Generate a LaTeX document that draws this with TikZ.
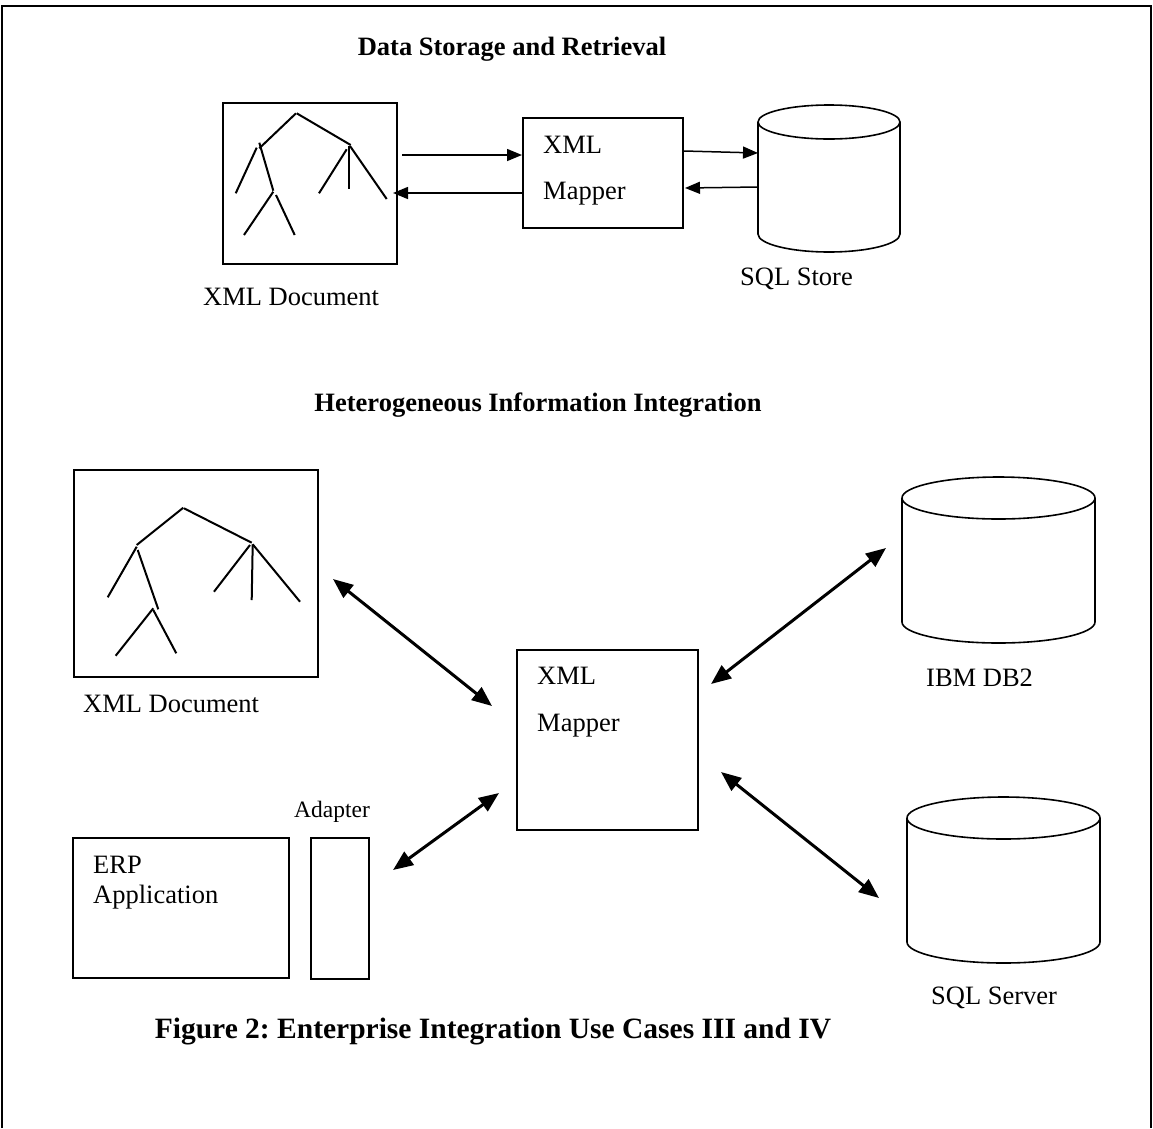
\documentclass[tikz,border=0pt]{standalone}
\usepackage{fontspec}
\setmainfont{Liberation Serif}
\usetikzlibrary{arrows.meta}
\frenchspacing
\begin{document}
\begin{tikzpicture}[x=1pt,y=-1pt,
  box/.style={draw, line width=2pt, inner sep=0pt, anchor=north west},
  lbl/.style={inner sep=0pt, font=\fontsize{26.5}{30}\selectfont},
  small/.style={inner sep=0pt, font=\fontsize{23.5}{28}\selectfont},
  ttl/.style={inner sep=0pt, font=\fontsize{26.5}{30}\selectfont\bfseries},
  captxt/.style={inner sep=0pt, font=\fontsize{29.5}{33}\selectfont\bfseries},
  tarr/.style={line width=1.5pt, -{Triangle[length=15pt,width=12pt]}},
  darr/.style={line width=3pt, {Triangle[length=20pt,width=16pt]}-{Triangle[length=20pt,width=16pt]}},
  tree/.style={line width=2pt},
  cyl/.style={line width=1.6pt}]
\useasboundingbox (0,0) rectangle (1153,1128);
% frame
\draw[line width=1.5pt] (2,1128) -- (2,6) -- (1151,6) -- (1151,1128);

% ---------- Data Storage and Retrieval ----------
\node[ttl, anchor=base] (t1) at (512,55) {Data Storage and Retrieval};

\node[box, minimum width=174pt, minimum height=161pt] (docA) at (222,102) {};
\draw[tree] (296,113.3) -- (259.3,148.3);
\draw[tree] (296.7,113.3) -- (350.7,145);
\draw[tree] (256.7,147.7) -- (235.7,193.3);
\draw[tree] (259.3,142.7) -- (273.3,190.7);
\draw[tree] (273.3,191.7) -- (244,235);
\draw[tree] (276,195) -- (294.7,235);
\draw[tree] (346.7,149.3) -- (319,193.3);
\draw[tree] (349,146) -- (349,189.3);
\draw[tree] (350,146) -- (386.7,199);
\node[lbl, anchor=base west] (docAl) at (203,305) {XML Document};

\node[box, minimum width=160pt, minimum height=110pt] (mapA) at (522,117) {};
\node[lbl, anchor=base west] (mapAt1) at (543,153) {XML};
\node[lbl, anchor=base west] (mapAt2) at (543,199) {Mapper};

% SQL Store cylinder
\coordinate (sqlA) at (829,122);
\draw[cyl] (758,122) -- (758,234) arc[start angle=180, end angle=0, x radius=71, y radius=18] -- (900,122);
\draw[cyl] (829,122) ellipse [x radius=71, y radius=17];
\node[lbl, anchor=base west] (sqlAl) at (740,285) {SQL Store};

% arrows top
\coordinate (a1s) at (402,155);
\coordinate (a1e) at (522,155);
\coordinate (a2s) at (522,193);
\coordinate (a2e) at (393,193);
\coordinate (a3s) at (684,151);
\coordinate (a3e) at (758,153);
\coordinate (a4s) at (758,187);
\coordinate (a4e) at (685,188);
\draw[tarr] (a1s) -- (a1e);
\draw[tarr] (a2s) -- (a2e);
\draw[tarr] (a3s) -- (a3e);
\draw[tarr] (a4s) -- (a4e);

% ---------- Heterogeneous Information Integration ----------
\node[ttl, anchor=base] (t2) at (538,411) {Heterogeneous Information Integration};

\node[box, minimum width=244pt, minimum height=207pt] (docB) at (73,469) {};
\draw[tree] (183.3,507.7) -- (136.7,545);
\draw[tree] (184,508.3) -- (251.7,542.7);
\draw[tree] (136.7,546.7) -- (107.7,597.3);
\draw[tree] (137.7,550) -- (158.3,609.3);
\draw[tree] (153.3,608.3) -- (115.7,655.7);
\draw[tree] (153.3,610) -- (176.3,653.3);
\draw[tree] (250,545) -- (214,591.7);
\draw[tree] (252.7,544.3) -- (251.7,600);
\draw[tree] (252.7,544.3) -- (300,601.7);
\node[lbl, anchor=base west] (docBl) at (83,712) {XML Document};

\node[box, minimum width=181pt, minimum height=180pt] (mapB) at (516,649) {};
\node[lbl, anchor=base west] (mapBt1) at (537,684) {XML};
\node[lbl, anchor=base west] (mapBt2) at (537,731) {Mapper};

\node[box, minimum width=216pt, minimum height=140pt] (erp) at (72,837) {};
\node[lbl, anchor=base west] (erpt1) at (93,873) {ERP};
\node[lbl, anchor=base west] (erpt2) at (93,903) {Application};

\node[box, minimum width=58pt, minimum height=141pt] (adp) at (310,837) {};
\node[small, anchor=base] (adpl) at (332,817) {Adapter};

% IBM DB2 cylinder
\coordinate (db2) at (998.5,498);
\draw[cyl] (902,498) -- (902,622) arc[start angle=180, end angle=0, x radius=96.5, y radius=21] -- (1095,498);
\draw[cyl] (998.5,498) ellipse [x radius=96.5, y radius=21];
\node[lbl, anchor=base west] (db2l) at (926,686) {IBM DB2};

% SQL Server cylinder
\coordinate (sqls) at (1003.5,818);
\draw[cyl] (907,818) -- (907,942) arc[start angle=180, end angle=0, x radius=96.5, y radius=21] -- (1100,818);
\draw[cyl] (1003.5,818) ellipse [x radius=96.5, y radius=21];
\node[lbl, anchor=base west] (sqlsl) at (931,1004) {SQL Server};

% bottom arrows
\coordinate (b1s) at (333,579);
\coordinate (b1e) at (492,706);
\coordinate (b2s) at (393,870);
\coordinate (b2e) at (499,793);
\coordinate (b3s) at (711,684);
\coordinate (b3e) at (886,548);
\coordinate (b4s) at (721,772);
\coordinate (b4e) at (879,898);
\draw[darr] (b1s) -- (b1e);
\draw[darr] (b2s) -- (b2e);
\draw[darr] (b3s) -- (b3e);
\draw[darr] (b4s) -- (b4e);

% caption
\node[captxt, anchor=base] (capt) at (493,1038) {Figure 2: Enterprise Integration Use Cases III and IV};
\end{tikzpicture}
\end{document}
